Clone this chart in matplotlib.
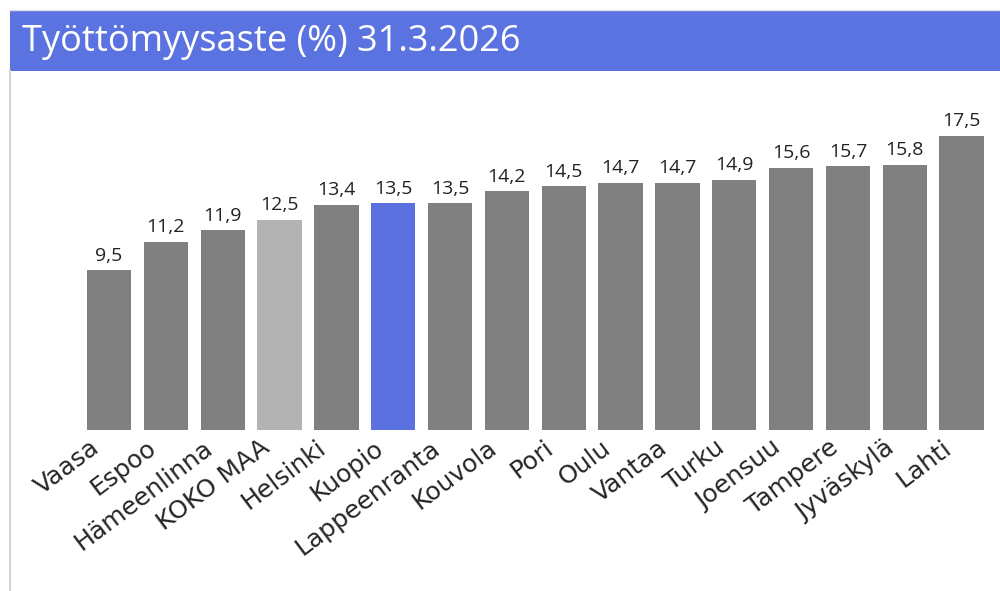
import matplotlib.pyplot as plt
from matplotlib.patches import Rectangle
from matplotlib.lines import Line2D
from matplotlib.transforms import ScaledTranslation

cities = ["Vaasa", "Espoo", "Hämeenlinna", "KOKO MAA", "Helsinki", "Kuopio",
          "Lappeenranta", "Kouvola", "Pori", "Oulu", "Vantaa", "Turku",
          "Joensuu", "Tampere", "Jyväskylä", "Lahti"]
rates = [9.5, 11.2, 11.9, 12.5, 13.4, 13.5, 13.5, 14.2, 14.5, 14.7, 14.7,
         14.9, 15.6, 15.7, 15.8, 17.5]
title = "Työttömyysaste (%) 31.3.2026"

GRAY = "#808080"
LIGHT = "#b3b3b3"
BLUE = "#5b71e0"

W, H = 1000, 591
fig = plt.figure(figsize=(W / 100, H / 100), dpi=100)

# title bar and frame
fig.patches.append(Rectangle((10 / W, 1 - 71 / H), 990 / W, 60 / H,
                             transform=fig.transFigure, facecolor="#5b73e0",
                             edgecolor="none", zorder=0))
fig.lines.append(Line2D([10 / W, 10 / W], [0, 1 - 71 / H], transform=fig.transFigure,
                        color="#d4d4d4", lw=1.5))
fig.lines.append(Line2D([10 / W, 1], [1 - 10 / H, 1 - 10 / H], transform=fig.transFigure,
                        color="#e0e0e0", lw=1))
fig.text(22 / W, 1 - 42 / H, title, color="white", fontsize=26,
         family="Open Sans", va="center", ha="left")

# axes: x from 80.6 to 990 px, y from 100 to 430 px
left, right, top, bottom = 80.6, 990, 100, 430
ax = fig.add_axes([left / W, 1 - bottom / H, (right - left) / W, (bottom - top) / H])

colors = []
for c in cities:
    if c == "KOKO MAA":
        colors.append(LIGHT)
    elif c == "Kuopio":
        colors.append(BLUE)
    else:
        colors.append(GRAY)

x = range(len(cities))
bars = ax.bar(x, rates, width=0.78, color=colors)
for b, v in zip(bars, rates):
    ax.annotate(f"{v:.1f}".replace(".", ","), (b.get_x() + b.get_width() / 2, v),
                xytext=(0, 4), textcoords="offset points", ha="center", va="bottom",
                fontsize=14, color="#222222", family="Open Sans")

ax.set_xlim(-0.5, len(cities) - 0.5)
ax.set_ylim(0, (bottom - top) / 16.8)
ax.set_xticks(list(x))
ax.set_xticklabels(cities, rotation=37, ha="right", rotation_mode="anchor",
                   fontsize=18, color="#262626")
ax.tick_params(axis="x", length=0, pad=4)
shift = ScaledTranslation(-20 / 100, 0, fig.dpi_scale_trans)
for lab in ax.get_xticklabels():
    lab.set_transform(lab.get_transform() + shift)
ax.set_yticks([])
for s in ax.spines.values():
    s.set_visible(False)

fig.savefig("out.png", dpi=100)
